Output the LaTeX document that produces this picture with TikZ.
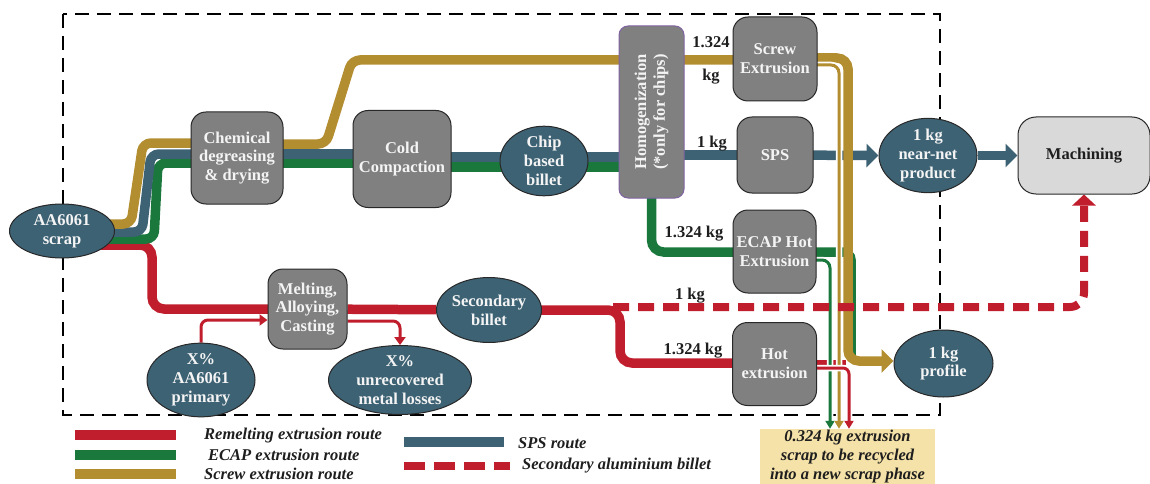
\documentclass[tikz,border=0pt]{standalone}
\usepackage{fontspec}
\setmainfont{Liberation Serif}
\usetikzlibrary{arrows.meta,shapes.geometric,backgrounds}
\definecolor{rc}{RGB}{192,30,45}
\definecolor{gc}{RGB}{26,120,60}
\definecolor{yc}{RGB}{179,142,49}
\definecolor{bc}{RGB}{61,98,116}
\definecolor{boxgray}{RGB}{128,128,128}
\definecolor{edgec}{RGB}{40,40,40}
\definecolor{purp}{RGB}{128,100,162}
\definecolor{tanc}{RGB}{245,226,168}
\definecolor{machc}{RGB}{217,217,217}
\definecolor{txtw}{RGB}{244,244,244}
\definecolor{txtd}{RGB}{30,30,30}
\begin{document}
\begin{tikzpicture}[x=1pt,y=-1pt,
  nfont/.style={font=\bfseries\fontsize{16.5}{18.8}\selectfont},
  procbox/.style={nfont, rectangle, rounded corners=15pt, draw=edgec, line width=1pt, fill=boxgray, text=txtw, align=center, inner sep=0pt},
  oval/.style={nfont, ellipse, draw=edgec, line width=1pt, fill=bc, text=txtw, align=center, inner sep=0pt},
  lab/.style={font=\bfseries\fontsize{16.5}{18.8}\selectfont, text=txtd, align=center, inner sep=0pt},
  legt/.style={font=\bfseries\itshape\fontsize{16.5}{18.8}\selectfont, text=txtd, anchor=west, inner sep=0pt},
  redl/.style={draw=rc, line width=9.5pt},
  greenl/.style={draw=gc, line width=9.5pt},
  goldl/.style={draw=yc, line width=9.5pt},
  bluel/.style={draw=bc, line width=9.5pt},
  redd/.style={draw=rc, line width=8pt, dash pattern=on 16pt off 9pt},
  thinl/.style={line width=3pt, preaction={draw=white, line width=6.5pt}},
  bigarr/.tip={Triangle[length=12pt,width=23pt]},
  smallarr/.tip={Triangle[length=8pt,width=9pt]},
  border/.style={draw=black, line width=1.6pt, dash pattern=on 14pt off 8pt}
]
\useasboundingbox (0,0) rectangle (1150,484);

% nodes
\node[oval, minimum width=105pt, minimum height=54pt] (scrap) at (62,231) {AA6061\\scrap};
\node[procbox, minimum width=92pt, minimum height=92pt] (chem) at (237,158) {Chemical\\degreasing\\\& drying};
\node[procbox, minimum width=98pt, minimum height=97pt] (cold) at (402,159) {Cold\\Compaction};
\node[oval, minimum width=88pt, minimum height=66pt] (chip) at (544,161) {Chip\\based\\billet};
\node[procbox, draw=purp, rounded corners=9pt, minimum width=172pt, minimum height=65pt, rotate=90] (homog) at (651.5,112) {Homogenization\\(*only for chips)};
\node[procbox, minimum width=84pt, minimum height=84pt] (screw) at (775,59) {Screw\\Extrusion};
\node[procbox, minimum width=76pt, minimum height=76pt] (sps) at (775,155) {SPS};
\node[procbox, minimum width=83pt, minimum height=83pt] (ecap) at (774.5,251.5) {ECAP Hot\\Extrusion};
\node[procbox, minimum width=84pt, minimum height=83pt] (hot) at (774.5,364) {Hot\\extrusion};
\node[oval, minimum width=98pt, minimum height=69pt] (nearnet) at (928,155.5) {1 kg\\near-net\\product};
\node[procbox, fill=machc, text=txtd, rounded corners=18pt, minimum width=132pt, minimum height=77pt] (mach) at (1084,155.5) {Machining};
\node[oval, minimum width=99pt, minimum height=67pt] (profile) at (943.5,363.5) {1 kg\\profile};
\node[procbox, minimum width=79pt, minimum height=80pt] (melt) at (307.5,309) {Melting,\\Alloying,\\Casting};
\node[oval, minimum width=98pt, minimum height=65pt] (secb) at (489,310) {Secondary\\billet};
\node[oval, minimum width=108pt, minimum height=66pt] (prim) at (201,380) {X\%\\AA6061\\primary};
\node[oval, minimum width=143pt, minimum height=65pt] (loss) at (400,380) {X\%\\unrecovered\\metal losses};
\node[fill=tanc, minimum width=175pt, minimum height=55pt, inner sep=0pt, align=center, font=\bfseries\itshape\fontsize{16.5}{18.8}\selectfont, text=txtd] (sbox) at (847.5,456.5) {0.324 kg extrusion\\scrap to be recycled\\into a new scrap phase};

% labels
\node[lab] (l1) at (711,60) {1.324\\[14pt]kg};
\node[lab] (l2) at (712,144) {1 kg};
\node[lab] (l3) at (694,234) {1.324 kg};
\node[lab] (l4) at (690,296) {1 kg};
\node[lab] (l5) at (693,351) {1.324 kg};

\coordinate (split) at (613,307);
\coordinate (redend) at (846,365);
\coordinate (greenend) at (851,356);

\begin{scope}[on background layer]
\draw[border] (63,14) rectangle (940,415);

% red route
\draw[redl, rounded corners=12pt] (scrap.center |- 0,245) -- (152,245) -- (152,309) -- (melt.center |- 0,309);
\draw[redl] (melt) -- (secb);
\draw[redl, rounded corners=12pt] (secb.center |- 0,310) -- (620,310) -- (620,363) -- (hot.center |- 0,363);
\draw[redl] (hot.center |- 0,365) -- (redend);

% green route
\draw[greenl, rounded corners=8pt] (scrap.center |- 0,239) -- (154,239) -- (158,163) -- (chem.center |- 0,163);
\draw[greenl] (chem.center |- 0,163) -- (cold.center |- 0,163);
\draw[greenl] (cold.center |- 0,167) -- (homog.center |- 0,167);
\draw[greenl, rounded corners=12pt] (homog.center) -- (homog.center |- 0,252) -- (ecap.center |- 0,252);
\draw[greenl, rounded corners=8pt] (ecap.center |- 0,252) -- (851,252) -- (greenend);

% blue route
\draw[bluel, rounded corners=8pt] (scrap.center |- 0,232) -- (142,232) -- (151,154) -- (chem.center |- 0,154);
\draw[bluel] (chem.center |- 0,154) -- (cold.center |- 0,154);
\draw[bluel] (cold.center |- 0,157) -- (homog.center |- 0,157);
\draw[bluel] (homog.center |- 0,155) -- (sps.center |- 0,155);
\draw[bluel, -bigarr] (sps.center |- 0,155) -- (nearnet.west);
\draw[bluel, -bigarr] (nearnet.east) -- (mach.west);

% gold route
\draw[goldl, rounded corners=8pt] (scrap.center |- 0,224) -- (131,224) -- (143,143) -- (chem.center |- 0,143);
\draw[goldl, rounded corners=8pt] (chem.center |- 0,144) -- (326,144) -- (352,60) -- (screw.center |- 0,60);
\draw[goldl, rounded corners=11pt, -bigarr] (screw.center |- 0,58) -- (848,58) -- (848,361) -- (profile.west |- 0,361);

% thin scrap arrows
\draw[thinl, draw=gc, rounded corners=8pt, -smallarr] (ecap.center |- 0,260) -- (830,260) -- (830,0 |- sbox.north);
\draw[thinl, draw=yc, rounded corners=8pt, -smallarr] (screw.center |- 0,65) -- (839,65) -- (839,0 |- sbox.north);
\draw[thinl, draw=rc, rounded corners=6pt, -smallarr] (hot.center |- 0,368) -- (849,368) -- (849,0 |- sbox.north);

% primary and losses
\draw[draw=rc, line width=3pt, rounded corners=7pt, -{Triangle[length=8pt,width=11pt]}] (prim.north) -- (prim.north |- 0,320) -- (melt.west |- 0,320);
\draw[draw=rc, line width=3pt, rounded corners=7pt, -{Triangle[length=8pt,width=11pt]}] (melt.east |- 0,321) -- (loss.north |- 0,321) -- (loss.north);

% secondary billet dashed
\draw[redd, rounded corners=14pt, -{Triangle[length=11pt,width=23pt]}] (split) -- (1084,307) -- (mach.south);
\end{scope}

% legend
\draw[redl] (75,435) -- (176,435);
\draw[greenl] (75,455) -- (176,455);
\draw[goldl] (75,474) -- (176,474);
\draw[bluel] (404,442) -- (504,442);
\draw[draw=rc, line width=8pt, dash pattern=on 21pt off 9pt] (404,466) -- (510,466);
\node[legt] (t1) at (204,436) {Remelting extrusion route};
\node[legt] (t2) at (208,455) {ECAP extrusion route};
\node[legt] (t3) at (204,474) {Screw extrusion route};
\node[legt] (t4) at (518,443) {SPS route};
\node[legt] (t5) at (522,466) {Secondary aluminium billet};
\end{tikzpicture}
\end{document}
